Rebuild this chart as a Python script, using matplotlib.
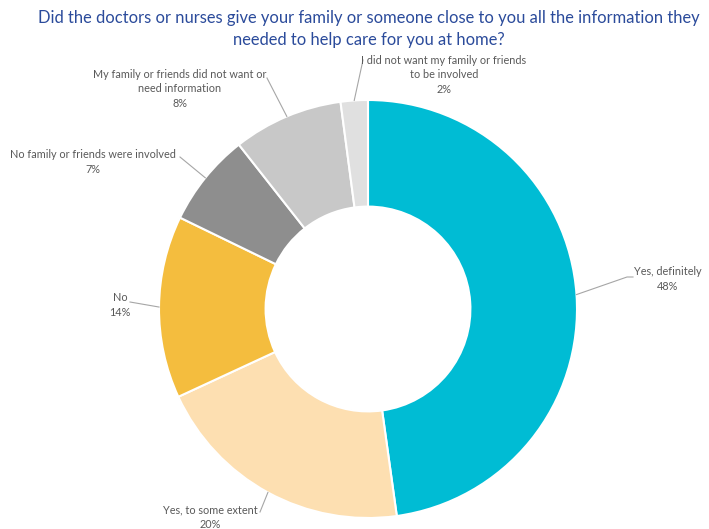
import numpy as np
import matplotlib.pyplot as plt

# slices, clockwise from 12 o'clock
labels = ["Yes, definitely", "Yes, to some extent", "No",
          "No family or friends were involved",
          "My family or friends did not want or\nneed information",
          "I did not want my family or friends\nto be involved"]
pct_labels = ["48%", "20%", "14%", "7%", "8%", "2%"]
values = [47.8, 20.3, 14.1, 7.2, 8.5, 2.1]
colors = ["#00BCD4", "#FDDFB1", "#F4BD3E", "#8E8E8E", "#C8C8C8", "#E0E0E0"]

title = ("Did the doctors or nurses give your family or someone close to you all the information they\n"
         "needed to help care for you at home?")

plt.rcParams['font.family'] = ['Lato', 'DejaVu Sans']

W, H = 709, 529
cx, cy, R = 368, 309, 209  # pie centre / radius in pixels

fig = plt.figure(figsize=(W / 100, H / 100), dpi=100)
ax = fig.add_axes([0, 0, 1, 1])

wedges, _ = ax.pie(values, colors=colors, startangle=90, counterclock=False,
                   radius=1, wedgeprops=dict(width=0.51, edgecolor='white', linewidth=1.5))
ax.set_aspect('auto')
ax.set_xlim(-cx / R, (W - cx) / R)
ax.set_ylim(-(H - cy) / R, cy / R)
ax.axis('off')

def px(x, y):
    return (x - cx) / R, (cy - y) / R

# label layout (pixels): text centre, leader end points near text
text_pos = [(668, 279), (210, 517), (120, 305), (93, 162), (180, 89), (444, 75)]
leader_end = [[(627, 277), (633, 277)], [(260, 512)], [(130, 302)],
              [(180, 157)], [(267, 78)], [(363, 60)]]

for w, lab, p, tp, ends in zip(wedges, labels, pct_labels, text_pos, leader_end):
    ang = np.deg2rad((w.theta1 + w.theta2) / 2)
    x0, y0 = np.cos(ang), np.sin(ang)
    pts = [(x0, y0)] + [px(*e) for e in ends]
    xs, ys = zip(*pts)
    ax.plot(xs, ys, color='#A6A6A6', lw=0.8)
    tx, ty = px(*tp)
    ax.text(tx, ty, lab + "\n" + p, ha='center', va='center', fontsize=7.8,
            color='#595959', linespacing=1.4)

fig.text(369 / W, 1 - 29 / H, title, ha='center', va='center', fontsize=11.9,
         color='#2B4B9B', linespacing=1.45)

fig.savefig('out.png', dpi=100)
